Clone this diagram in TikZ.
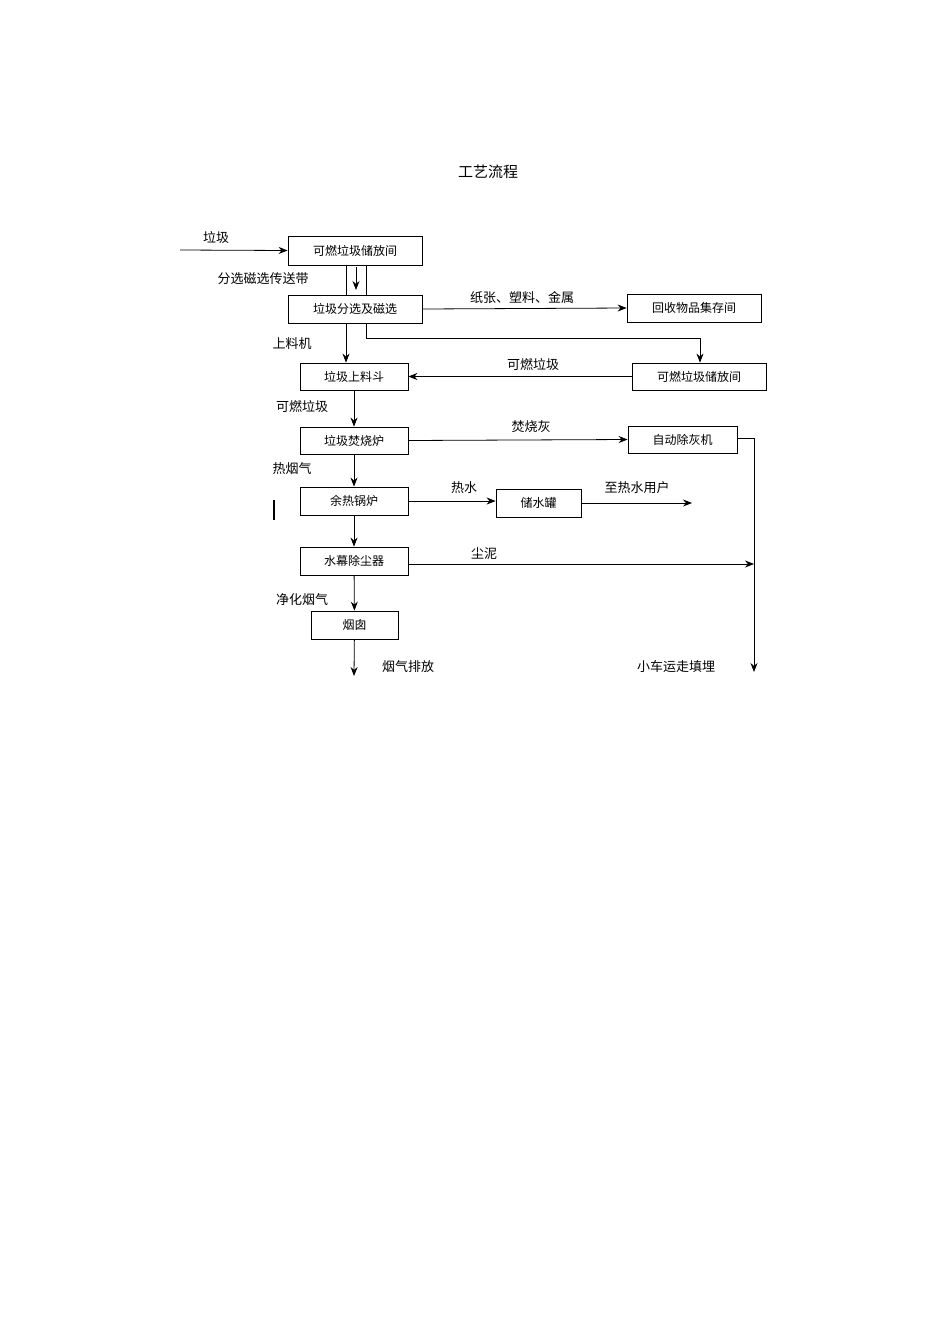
\documentclass[tikz,border=0pt]{standalone}
\usepackage{fontspec}
\setmainfont{Noto Sans CJK SC}
\usetikzlibrary{arrows.meta}
\begin{document}
\begin{tikzpicture}[x=1pt,y=-1pt,
 bx/.style={draw,line width=0.8pt,inner sep=0,font=\fontsize{12}{12}\selectfont},
 lb/.style={font=\fontsize{13}{13}\selectfont,inner sep=0},
 ar/.style={line width=0.8pt,-{Stealth[length=9pt,width=7pt]}},
 ln/.style={line width=0.8pt}]
\useasboundingbox (0,0) rectangle (950,1344);
\fill[white] (0,0) rectangle (950,1344);
\node[font=\fontsize{15}{15}\selectfont] (title) at (488,172) {工艺流程};
\node[bx,minimum width=134,minimum height=29] (b1) at (355,250.5) {可燃垃圾储放间};
\node[bx,minimum width=134,minimum height=28] (b2) at (355,309) {垃圾分选及磁选};
\node[bx,minimum width=134,minimum height=28] (b3) at (694,308) {回收物品集存间};
\node[bx,minimum width=108,minimum height=27] (b4) at (354,376.5) {垃圾上料斗};
\node[bx,minimum width=134,minimum height=27] (b5) at (699,376.5) {可燃垃圾储放间};
\node[bx,minimum width=108,minimum height=27] (b6) at (354,440.5) {垃圾焚烧炉};
\node[bx,minimum width=109,minimum height=27] (b7) at (682.5,439.5) {自动除灰机};
\node[bx,minimum width=108,minimum height=28] (b8) at (354,501) {余热锅炉};
\node[bx,minimum width=85,minimum height=28] (b9) at (538.5,503) {储水罐};
\node[bx,minimum width=108,minimum height=28] (b10) at (354,561) {水幕除尘器};
\node[bx,minimum width=87,minimum height=28] (b11) at (354.5,625) {烟囱};
\coordinate (in) at (180,250);
\draw[ar] (in) -- (b1.west);
\node[lb] (l1) at (216,238) {垃圾};
\draw[ln] (b1.south -| 346,0) -- (b2.north -| 346,0);
\draw[ln] (b1.south -| 366,0) -- (b2.north -| 366,0);
\coordinate (a1) at (356,267);
\coordinate (a2) at (356,290);
\draw[ar] (a1) -- (a2);
\node[lb] (l2) at (263,279) {分选磁选传送带};
\draw[ar] (b2.east) -- (b3.west);
\node[lb] (l3) at (522,298) {纸张、塑料、金属};
\draw[ar] (b2.south -| 346,0) -- (b4.north -| 346,0);
\node[lb] (l4) at (292,344) {上料机};
\coordinate (c1) at (366,338);
\coordinate (c2) at (700,338);
\draw[ar] (b2.south -| c1) -- (c1) -- (c2) -- (b5.north -| c2);
\draw[ar] (b5.west) -- (b4.east);
\node[lb] (l5) at (533,365) {可燃垃圾};
\draw[ar] (b4) -- (b6);
\node[lb] (l6) at (302,407) {可燃垃圾};
\draw[ar] (b6.east) -- (b7.west);
\node[lb] (l7) at (531,427) {焚烧灰};
\draw[ar] (b6) -- (b8);
\node[lb] (l8) at (292,469) {热烟气};
\draw[ar] (b8.east) -- (b9.west |- b8.east);
\node[lb] (l9) at (464,488) {热水};
\coordinate (d1) at (692,503);
\draw[ar] (b9.east) -- (d1);
\node[lb] (l10) at (637,488) {至热水用户};
\draw[ar] (b8) -- (b10);
\coordinate (e0) at (754,438);
\coordinate (e1) at (754,564);
\coordinate (e2) at (754,672);
\draw[ln] (b7.east |- e0) -- (e0);
\draw[ar] (e0) -- (e2);
\draw[ar] (b10.east |- e1) -- (e1);
\node[lb] (l11) at (484,554) {尘泥};
\draw[ar] (b10) -- (b11);
\node[lb] (l12) at (302,600) {净化烟气};
\coordinate (f1) at (354,676);
\draw[ar] (b11) -- (f1);
\node[lb] (l13) at (408,667) {烟气排放};
\node[lb] (l14) at (676,667) {小车运走填埋};
\coordinate (m1) at (274,500);
\coordinate (m2) at (274,520);
\draw[line width=1.8pt] (m1) -- (m2);
\end{tikzpicture}
\end{document}
